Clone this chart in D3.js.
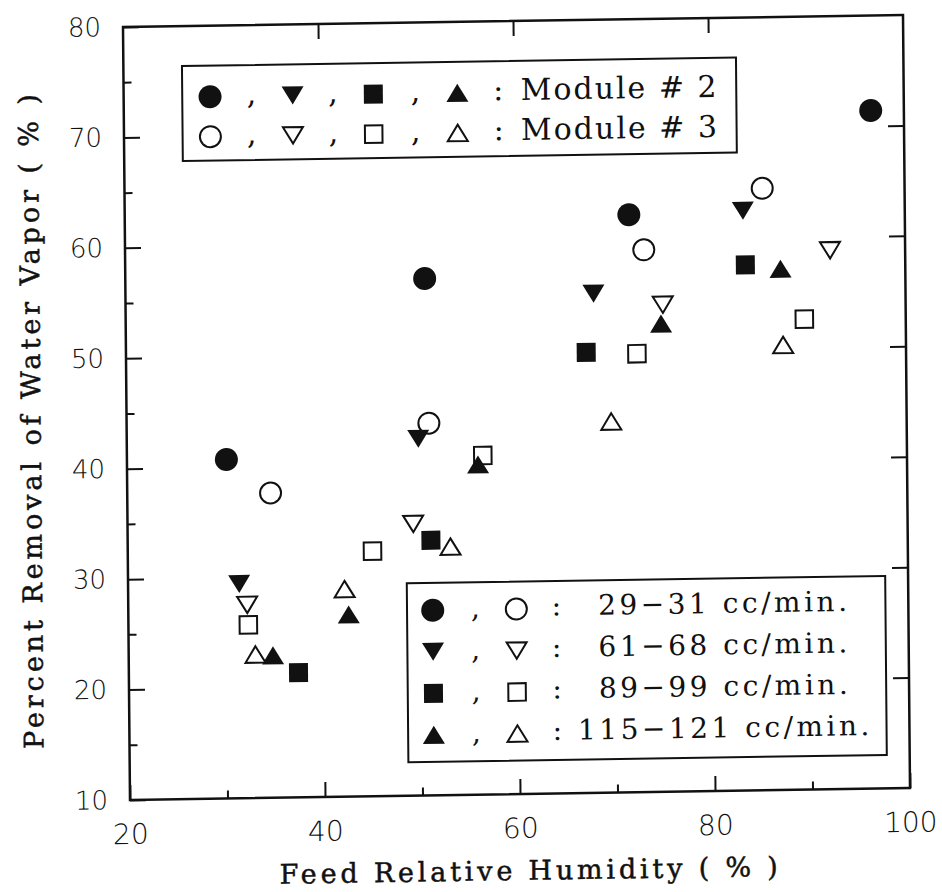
<!DOCTYPE html>
<html lang="en">

<head>
  <meta charset="UTF-8">
  <title>Percent Removal of Water Vapor</title>
  <script src="https://d3js.org/d3.v7.min.js"></script>
</head>

<body>

</body>
<style>
  body {
    margin: 0;
    padding: 0;
    background: #fff;
  }

  .tick text {
    font-family: 'DejaVu Sans', sans-serif;
    font-weight: 200;
    fill: #111;
  }

  .tick line {
    stroke: #111;
    stroke-width: 2px;
  }

  .title {
    font-family: 'DejaVu Serif', serif;
    fill: #111;
    stroke: #111;
    stroke-width: 0.5px;
  }

  .legend text {
    font-family: 'DejaVu Serif', serif;
    fill: #111;
  }
</style>
<script>
  const width = 942
  const height = 892

  // [feed RH %, removal %]
  const mod2Flow29 = [[30.2, 40.7], [50.7, 56.8], [71.7, 62.3], [96.6, 71.4]]
  const mod3Flow29 = [[34.7, 37.6], [51.0, 43.7], [73.2, 59.1], [85.4, 64.5]]
  const mod2Flow61 = [[31.4, 29.4], [49.9, 42.3], [68.0, 55.2], [83.4, 62.5]]
  const mod3Flow61 = [[32.2, 27.5], [49.3, 34.6], [75.1, 54.1], [92.3, 58.8]]
  const mod2Flow89 = [[37.4, 21.3], [51.1, 33.1], [67.2, 49.9], [83.6, 57.6]]
  const mod3Flow89 = [[32.3, 25.7], [45.1, 32.2], [56.5, 40.7], [72.4, 49.7], [89.6, 52.6]]
  const mod2Flow115 = [[34.8, 22.9], [42.6, 26.5], [56.0, 39.9], [74.9, 52.4], [87.2, 57.2]]
  const mod3Flow115 = [[33.0, 23.0], [42.2, 28.8], [53.1, 32.5], [69.7, 43.6], [87.4, 50.3]]

  const xTicks = [20, 40, 60, 80, 100]
  const xMinor = [30, 50, 70, 90]
  const yTicks = [10, 20, 30, 40, 50, 60, 70, 80]
  const yMinor = [15, 25, 35, 45, 55, 65, 75]

  const flowLabels = ['29\u221231 cc/min.', '61\u221268 cc/min.', '89\u221299 cc/min.', '115\u2212121 cc/min.']
  const moduleLabels = ['Module # 2', 'Module # 3']
  const shapes = ['circle', 'down', 'square', 'up']

  const xTitle = 'Feed Relative Humidity ( % )'
  const yTitle = 'Percent Removal of Water Vapor ( % )'

  const series = [
    { data: mod2Flow29, shape: 'circle', filled: true },
    { data: mod3Flow29, shape: 'circle', filled: false },
    { data: mod2Flow61, shape: 'down', filled: true },
    { data: mod3Flow61, shape: 'down', filled: false },
    { data: mod2Flow89, shape: 'square', filled: true },
    { data: mod3Flow89, shape: 'square', filled: false },
    { data: mod2Flow115, shape: 'up', filled: true },
    { data: mod3Flow115, shape: 'up', filled: false },
  ]

  // plot box, in local units (the scanned figure sits a little askew)
  const w = 780
  const h = 773

  const x = d3.scaleLinear().domain([20, 100]).range([0, w])
  const y = d3.scaleLinear().domain([10, 80]).range([h, 0])

  // triangles centred on their bounding box, like the original plot
  const triUp = {
    draw(ctx, size) {
      const tw = Math.sqrt(size) * 1.1, th = tw * 0.82
      ctx.moveTo(0, -th / 2); ctx.lineTo(tw / 2, th / 2); ctx.lineTo(-tw / 2, th / 2); ctx.closePath()
    }
  }
  const triDown = {
    draw(ctx, size) {
      const tw = Math.sqrt(size) * 1.1, th = tw * 0.82
      ctx.moveTo(0, th / 2); ctx.lineTo(tw / 2, -th / 2); ctx.lineTo(-tw / 2, -th / 2); ctx.closePath()
    }
  }

  function markerPath(shape, filled) {
    if (shape === 'circle') return d3.symbol(d3.symbolCircle, Math.PI * (filled ? 11.5 : 10.5) ** 2)()
    if (shape === 'square') return d3.symbol(d3.symbolSquare, (filled ? 19 : 17.5) ** 2)()
    const s = (filled ? 20 : 18.2) ** 2
    return d3.symbol(shape === 'up' ? triUp : triDown, s)()
  }

  function drawMarker(sel, shape, filled) {
    sel.append('path')
      .attr('d', markerPath(shape, filled))
      .attr('fill', filled ? '#111' : '#fff')
      .attr('stroke', filled ? 'none' : '#111')
      .attr('stroke-width', 2)
  }

  const svg = d3.select('body').append('svg')
    .attr('width', width)
    .attr('height', height)

  const chart = svg.append('g')
    .attr('transform', 'matrix(1,-0.0154,0.00906,1,123,27)')

  // axes, ticks pointing inward
  const noDomain = g => g.select('.domain').remove()

  chart.append('g')
    .call(d3.axisLeft(y).tickValues(yTicks).tickSize(-16).tickPadding(22))
    .call(noDomain)
    .call(g => g.selectAll('text').attr('font-size', 26))
  chart.append('g')
    .call(d3.axisLeft(y).tickValues(yMinor).tickSize(-8).tickFormat(''))
    .call(noDomain)

  chart.append('g')
    .attr('transform', `translate(0,${h})`)
    .call(d3.axisBottom(x).tickValues(xTicks).tickSize(-15).tickPadding(24))
    .call(noDomain)
    .call(g => g.selectAll('text').attr('font-size', 28))
  chart.append('g')
    .attr('transform', `translate(0,${h})`)
    .call(d3.axisBottom(x).tickValues(xMinor).tickSize(-8).tickFormat(''))
    .call(noDomain)

  chart.append('g')
    .call(d3.axisTop(x).tickValues(xTicks.slice(1, -1)).tickSize(-15).tickFormat(''))
    .call(noDomain)
  chart.append('g')
    .attr('transform', `translate(${w},0)`)
    .call(d3.axisRight(y).tickValues(yTicks.slice(1, -1)).tickSize(-16).tickFormat(''))
    .call(noDomain)

  chart.append('rect')
    .attr('width', w)
    .attr('height', h)
    .attr('fill', 'none')
    .attr('stroke', '#111')
    .attr('stroke-width', 2.5)

  // titles, stretched to the same span as the typewriter lettering
  chart.append('text')
    .attr('class', 'title')
    .attr('x', 398)
    .attr('y', 859)
    .attr('text-anchor', 'middle')
    .attr('font-size', 27)
    .attr('textLength', 498)
    .attr('lengthAdjust', 'spacing')
    .text(xTitle)

  chart.append('text')
    .attr('class', 'title')
    .attr('transform', 'translate(-86,393) rotate(-90)')
    .attr('text-anchor', 'middle')
    .attr('font-size', 27)
    .attr('textLength', 655)
    .attr('lengthAdjust', 'spacing')
    .text(yTitle)

  // points
  for (const s of series) {
    chart.append('g')
      .selectAll('g')
      .data(s.data)
      .join('g')
      .attr('transform', d => `translate(${x(d[0])},${y(d[1])})`)
      .each(function () { drawMarker(d3.select(this), s.shape, s.filled) })
  }

  // module legend
  const legTop = chart.append('g').attr('class', 'legend')
  legTop.append('rect')
    .attr('x', 58.6).attr('y', 40)
    .attr('width', 554).attr('height', 95)
    .attr('fill', '#fff').attr('stroke', '#111').attr('stroke-width', 2)

  const symX = [86.4, 169, 249.7, 333.7]
  moduleLabels.forEach((label, i) => {
    const row = legTop.append('g').attr('transform', `translate(0,${71 + i * 40})`)
    shapes.forEach((shape, j) => {
      drawMarker(row.append('g').attr('transform', `translate(${symX[j]},0)`), shape, i === 0)
      if (j < shapes.length - 1) {
        row.append('text')
          .attr('x', (symX[j] + symX[j + 1]) / 2).attr('y', 8)
          .attr('text-anchor', 'middle').attr('font-size', 30)
          .text(',')
      }
    })
    row.append('text')
      .attr('x', 374.7).attr('y', 8)
      .attr('text-anchor', 'middle').attr('font-size', 30)
      .text(':')
    row.append('text')
      .attr('x', 397).attr('y', 8)
      .attr('font-size', 30)
      .attr('letter-spacing', 2)
      .text(label)
  })

  // flow-rate legend
  const legBot = chart.append('g').attr('class', 'legend')
  legBot.append('rect')
    .attr('x', 278.7).attr('y', 560.6)
    .attr('width', 478.4).attr('height', 179)
    .attr('fill', '#fff').attr('stroke', '#111').attr('stroke-width', 2)

  flowLabels.forEach((label, i) => {
    const row = legBot.append('g').attr('transform', `translate(0,${588 + i * 41.5})`)
    drawMarker(row.append('g').attr('transform', 'translate(304.4,0)'), shapes[i], true)
    drawMarker(row.append('g').attr('transform', 'translate(388,0)'), shapes[i], false)
    row.append('text')
      .attr('x', 347).attr('y', 8)
      .attr('text-anchor', 'middle').attr('font-size', 28)
      .text(',')
    row.append('text')
      .attr('x', 428).attr('y', 7)
      .attr('text-anchor', 'middle').attr('font-size', 28)
      .text(':')
    row.append('text')
      .attr('x', 596).attr('y', 7)
      .attr('text-anchor', 'middle').attr('font-size', 28)
      .attr('letter-spacing', 3.5)
      .text(label)
  })
</script>

</html>
